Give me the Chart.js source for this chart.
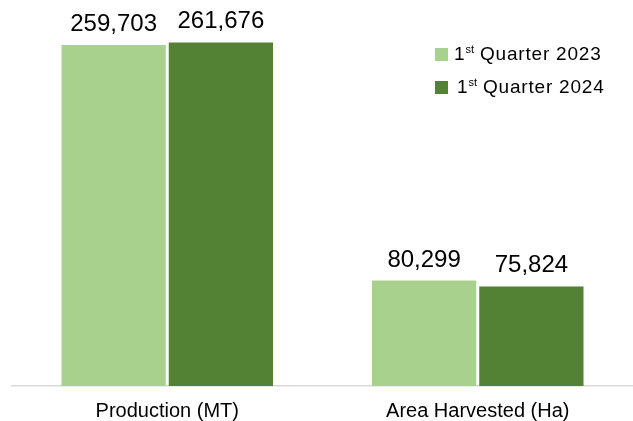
<!DOCTYPE html>
<html>
<head>
<meta charset="utf-8">
<script src="https://cdn.jsdelivr.net/npm/chart.js@4/dist/chart.umd.min.js"></script>
<style>
  html, body { margin: 0; padding: 0; background: #fff; overflow: hidden; }
  #wrap { position: relative; width: 633px; height: 421px; }
  .leg { position: absolute; left: 435px; font-family: "Liberation Sans", Arial, sans-serif;
         font-size: 19px; letter-spacing: 0.8px; color: #000; white-space: nowrap; line-height: 19px; }
  .leg i { display: inline-block; width: 13px; height: 13px; vertical-align: -1px; }
  .leg sup { font-size: 11px; vertical-align: 7px; line-height: 0; letter-spacing: 0; }
</style>
</head>
<body>
<div id="wrap">
  <canvas id="barChart" width="633" height="421"></canvas>
  <div class="leg" style="top:44px"><i style="background:#a9d18e;margin-right:6px"></i>1<sup>st</sup> Quarter 2023</div>
  <div class="leg" style="top:77px"><i style="background:#548235;margin-right:9px"></i>1<sup>st</sup> Quarter 2024</div>
</div>
<script>
const categories = ["Production (MT)", "Area Harvested (Ha)"];
const q1_2023 = [259703, 80299];
const q1_2024 = [261676, 75824];
const seriesNames = ["1st Quarter 2023", "1st Quarter 2024"];

// numbers above the bars
const valueLabels = {
    id: 'valueLabels',
    afterDatasetsDraw(chart) {
        const ctx = chart.ctx;
        ctx.save();
        ctx.font = '24px "Liberation Sans", Arial, sans-serif';
        ctx.fillStyle = '#000';
        ctx.textAlign = 'center';
        ctx.textBaseline = 'alphabetic';
        chart.data.datasets.forEach(function (ds, i) {
            chart.getDatasetMeta(i).data.forEach(function (bar, j) {
                ctx.fillText(ds.data[j].toLocaleString('en-US'), bar.x, bar.y - 14);
            });
        });
        ctx.restore();
    }
};

const ctx = document.getElementById('barChart').getContext('2d');
const myChart = new Chart(ctx, {
    type: 'bar',
    data: {
        labels: categories,
        datasets: [{
            label: seriesNames[0],
            data: q1_2023,
            backgroundColor: '#a9d18e'
        }, {
            label: seriesNames[1],
            data: q1_2024,
            backgroundColor: '#548235'
        }]
    },
    options: {
        responsive: false,
        animation: false,
        categoryPercentage: 0.691,
        barPercentage: 0.972,
        layout: { padding: { left: 12, right: 0, top: 0, bottom: 0 } },
        plugins: {
            legend: { display: false },
            tooltip: { enabled: false }
        },
        scales: {
            x: {
                afterFit: function (axis) { axis.height = 35; },
                grid: { display: false, drawTicks: false },
                border: { display: true, color: '#d9d9d9', width: 1.5 },
                ticks: {
                    padding: 14,
                    color: '#000',
                    font: { family: '"Liberation Sans", Arial, sans-serif', size: 20, lineHeight: 1.15 }
                }
            },
            y: {
                display: false,
                min: 0,
                max: 294000
            }
        }
    },
    plugins: [valueLabels]
});
</script>
</body>
</html>
